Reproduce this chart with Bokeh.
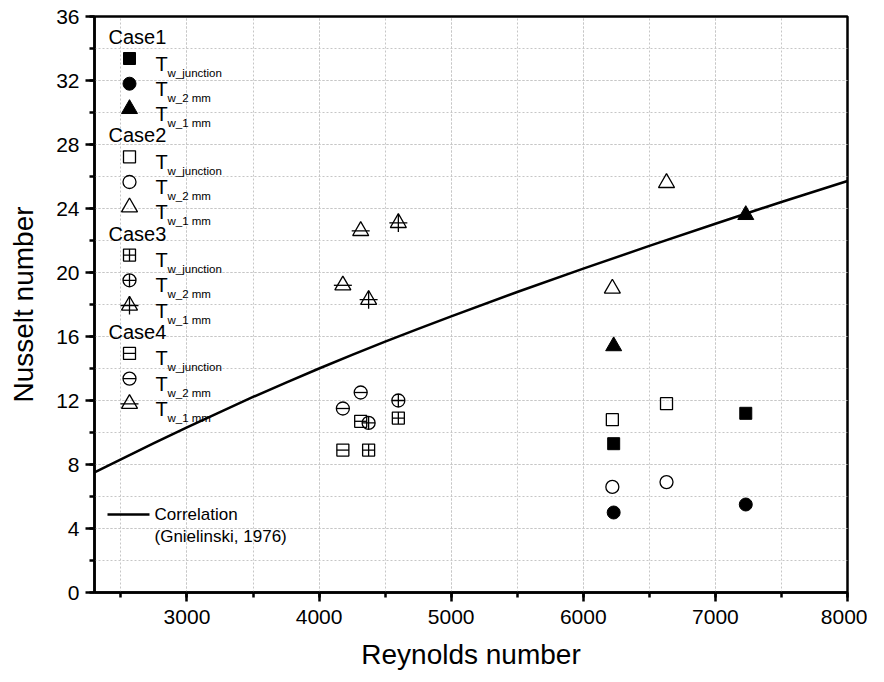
from bokeh.plotting import figure
from bokeh.models import Range1d, SingleIntervalTicker
from bokeh.core.properties import value
from bokeh.embed import file_html
from bokeh.resources import INLINE

# ---------------- data ----------------
re_case1 = [6230, 7230]
nu1_junction = [9.3, 11.2]
nu1_2mm = [5.0, 5.5]
nu1_1mm = [15.4, 23.6]

re_case2 = [6220, 6630]
nu2_junction = [10.8, 11.8]
nu2_2mm = [6.6, 6.9]
nu2_1mm = [19.0, 25.6]

re_case3 = [4375, 4600]
nu3_junction = [8.9, 10.9]
nu3_2mm = [10.6, 12.0]
nu3_1mm = [18.3, 23.1]

re_case4 = [4180, 4315]
nu4_junction = [8.9, 10.7]
nu4_2mm = [11.5, 12.5]
nu4_1mm = [19.2, 22.6]

re_corr = [2300, 2500, 2750, 3000, 3250, 3500, 3750, 4000, 4250, 4500, 4750, 5000, 5500,
           6000, 6500, 7000, 7500, 8000]
nu_corr = [7.5, 8.32, 9.33, 10.32, 11.28, 12.22, 13.12, 14.0, 14.85, 15.68, 16.48, 17.26,
           18.78, 20.24, 21.66, 23.05, 24.41, 25.72]

case_names = ["Case1", "Case2", "Case3", "Case4"]
sub_labels = ["w_junction", "w_2 mm", "w_1 mm"]
corr_labels = ["Correlation", "(Gnielinski, 1976)"]

FONT = "Liberation Sans"

p = figure(frame_width=753, frame_height=576, output_backend="svg", toolbar_location=None,
           x_range=Range1d(2300, 8000), y_range=Range1d(0, 36),
           min_border_left=94, min_border_top=16, min_border_right=20, min_border_bottom=80,
           background_fill_color="white", border_fill_color="white")

p.outline_line_color = "black"
p.outline_line_width = 2.5
p.outline_line_alpha = 1

for ax in (p.xaxis[0], p.yaxis[0]):
    ax.axis_line_width = 2.5
    ax.major_tick_line_width = 2.5
    ax.minor_tick_line_width = 2.5
    ax.major_tick_out = 9
    ax.major_tick_in = 0
    ax.minor_tick_out = 5
    ax.minor_tick_in = 0
    ax.major_label_text_font = FONT
    ax.major_label_text_font_size = "21px"
    ax.major_label_text_color = "black"
    ax.axis_label_text_font = FONT
    ax.axis_label_text_font_size = "28px"
    ax.axis_label_text_font_style = "normal"
    ax.axis_label_text_color = "black"

p.xaxis[0].ticker = SingleIntervalTicker(interval=1000, num_minor_ticks=2)
p.yaxis[0].ticker = SingleIntervalTicker(interval=4, num_minor_ticks=2)
p.xaxis.axis_label = "Reynolds number"
p.yaxis.axis_label = "Nusselt number"
p.xaxis.major_label_standoff = 8
p.yaxis.major_label_standoff = 6
p.xaxis.axis_label_standoff = 12
p.yaxis.axis_label_standoff = 14

for g in (p.xgrid[0], p.ygrid[0]):
    g.grid_line_color = "#c6c6c6"
    g.grid_line_width = 1
    g.grid_line_dash = "2 2"
    g.minor_grid_line_color = "#c6c6c6"
    g.minor_grid_line_width = 1
    g.minor_grid_line_dash = "2 2"

# correlation line
p.line(re_corr, nu_corr, line_color="black", line_width=2.5, line_join="round")

LW = 1.3
S_SQ, S_CI, S_TR = 12, 13, 16

# Case1 filled
p.scatter(re_case1, nu1_junction, marker="square", size=S_SQ, fill_color="black", line_color="black")
p.scatter(re_case1, nu1_2mm, marker="circle", size=S_CI, fill_color="black", line_color="black")
p.scatter(re_case1, nu1_1mm, marker="triangle", size=S_TR, fill_color="black", line_color="black")
# Case2 open
p.scatter(re_case2, nu2_junction, marker="square", size=S_SQ, fill_color=None, line_color="black", line_width=LW)
p.scatter(re_case2, nu2_2mm, marker="circle", size=S_CI, fill_color=None, line_color="black", line_width=LW)
p.scatter(re_case2, nu2_1mm, marker="triangle", size=S_TR, fill_color=None, line_color="black", line_width=LW)
# Case3 crossed
p.scatter(re_case3, nu3_junction, marker="square_cross", size=S_SQ, fill_color=None, line_color="black", line_width=LW)
p.scatter(re_case3, nu3_2mm, marker="circle_cross", size=S_CI, fill_color=None, line_color="black", line_width=LW)
p.scatter(re_case3, nu3_1mm, marker="triangle", size=S_TR, fill_color=None, line_color="black", line_width=LW)
p.scatter(re_case3, nu3_1mm, marker="cross", size=S_TR + 2, line_color="black", line_width=LW)
# Case4 barred
p.scatter(re_case4, nu4_junction, marker="square", size=S_SQ, fill_color=None, line_color="black", line_width=LW)
p.scatter(re_case4, nu4_junction, marker="dash", size=S_SQ, line_color="black", line_width=LW)
p.scatter(re_case4, nu4_2mm, marker="circle", size=S_CI, fill_color=None, line_color="black", line_width=LW)
p.scatter(re_case4, nu4_2mm, marker="dash", size=S_CI, line_color="black", line_width=LW)
p.scatter(re_case4, nu4_1mm, marker="triangle", size=S_TR, fill_color=None, line_color="black", line_width=LW)
p.scatter(re_case4, nu4_1mm, marker="dash", size=S_TR + 2, line_color="black", line_width=LW)

# ---------------- legend (frame pixel coordinates, y down) ----------------
p.extra_x_ranges = {"lx": Range1d(0, 753)}
p.extra_y_ranges = {"ly": Range1d(576, 0)}
R = dict(x_range_name="lx", y_range_name="ly")

first_item_y, group_step, item_step, header_off = 42, 98.3, 25.2, 21.5
mk_x, t_x, sub_x, head_x = 35, 61, 73, 14

head_y = [first_item_y + g * group_step - header_off for g in range(4)]
p.text(x=[head_x] * 4, y=head_y, text=case_names, text_font=value(FONT), text_font_size="20px",
       text_baseline="middle", text_align="left", text_color="black", **R)

styles = [
    [("square", "black", None), ("circle", "black", None), ("triangle", "black", None)],
    [("square", None, None), ("circle", None, None), ("triangle", None, None)],
    [("square_cross", None, None), ("circle_cross", None, None), ("triangle", None, "cross")],
    [("square", None, "dash"), ("circle", None, "dash"), ("triangle", None, "dash")],
]
sizes = [S_SQ, S_CI, S_TR]
for g in range(4):
    for i in range(3):
        yy = first_item_y + g * group_step + i * item_step
        m, fill, extra = styles[g][i]
        p.scatter([mk_x], [yy], marker=m, size=sizes[i], fill_color=fill, line_color="black",
                  line_width=LW if fill is None else 1, **R)
        if extra:
            p.scatter([mk_x], [yy], marker=extra, size=sizes[i] + (2 if i == 2 else 0),
                      line_color="black", line_width=LW, **R)
        p.text(x=[t_x], y=[yy + 5], text=["T"], text_font=value(FONT), text_font_size="20px",
               text_baseline="middle", text_align="left", text_color="black", **R)
        p.text(x=[sub_x], y=[yy + 14], text=[sub_labels[i]], text_font=value(FONT),
               text_font_size="11.5px", text_baseline="alphabetic", text_align="left",
               text_color="black", **R)

# correlation legend
corr_y = 498
p.line(x=[13, 55], y=[corr_y, corr_y], line_color="black", line_width=2.5, **R)
p.text(x=[60, 60], y=[corr_y, corr_y + 22], text=corr_labels, text_font=value(FONT),
       text_font_size="17px", text_baseline="middle", text_align="left", text_color="black", **R)

open("out.html", "w").write(file_html(p, INLINE))
